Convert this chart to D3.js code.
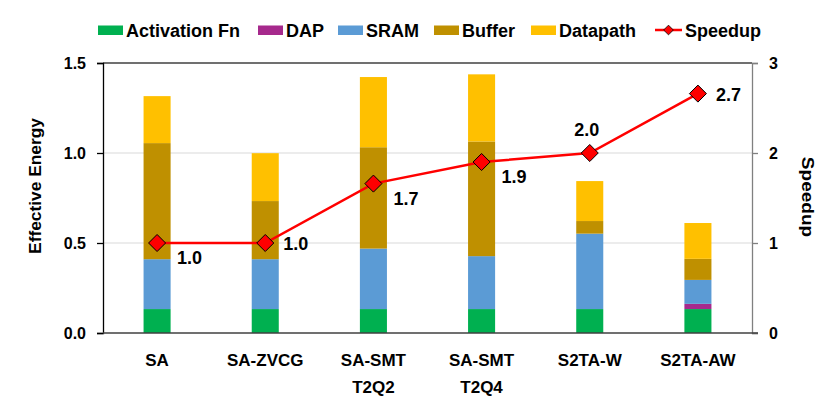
<!DOCTYPE html>
<html>
<head>
<meta charset="utf-8">
<script src="https://cdn.jsdelivr.net/npm/d3@7"></script>
<style>
  body { margin: 0; background: #fff; }
  text { font-family: "Liberation Sans", Arial, sans-serif; font-weight: bold; fill: #000; }
</style>
</head>
<body>
<div id="chart"></div>
<script>
// chart values
var categories = ["SA", "SA-ZVCG", "SA-SMT\nT2Q2", "SA-SMT\nT2Q4", "S2TA-W", "S2TA-AW"];
var seriesNames = ["Activation Fn", "DAP", "SRAM", "Buffer", "Datapath"];
var activationFn = [0.133, 0.133, 0.133, 0.133, 0.133, 0.133];
var dap          = [0, 0, 0, 0, 0, 0.029];
var sram         = [0.277, 0.277, 0.336, 0.294, 0.419, 0.133];
var buffer       = [0.645, 0.323, 0.563, 0.637, 0.070, 0.117];
var datapath     = [0.261, 0.266, 0.390, 0.373, 0.222, 0.199];
var speedup      = [1.0, 1.0, 1.66, 1.9, 2.0, 2.66];
var energyTicks  = [0, 0.5, 1.0, 1.5];
var speedupTicks = [0, 1, 2, 3];

var colors = ["#00B050", "#A6298C", "#5B9BD5", "#BF9000", "#FFC000"];
// where each speedup label sits relative to its marker
var labelPlace = ["br", "r", "br", "br", "t", "r"];

var W = 830, H = 411;
var m = { l: 103, r: 78, t: 63, b: 78 };

// stretch/squeeze a text to a width factor
function condense(sel, k) {
    sel.each(function() {
        var w = this.getComputedTextLength();
        d3.select(this)
            .attr("textLength", w * k)
            .attr("lengthAdjust", "spacingAndGlyphs");
    });
}

var svg = d3.select("#chart").append("svg")
    .attr("width", W)
    .attr("height", H);

var x = d3.scaleBand()
    .domain(categories)
    .range([m.l, W - m.r])
    .paddingInner(0.75)
    .paddingOuter(0.375);

var y = d3.scaleLinear().domain([0, 1.5]).range([H - m.b, m.t]);
var y2 = d3.scaleLinear().domain([0, 3]).range([H - m.b, m.t]);

// gridlines
svg.append("g")
    .selectAll("line")
    .data(energyTicks.slice(1, 3))
    .enter().append("line")
    .attr("x1", m.l).attr("x2", W - m.r)
    .attr("y1", d => y(d)).attr("y2", d => y(d))
    .attr("stroke", "#d9d9d9")
    .attr("stroke-width", 1);

// stacked bars
var rows = categories.map(function(c, i) {
    return {
        cat: c,
        "Activation Fn": activationFn[i],
        "DAP": dap[i],
        "SRAM": sram[i],
        "Buffer": buffer[i],
        "Datapath": datapath[i]
    };
});
var stack = d3.stack().keys(seriesNames)(rows);

svg.append("g")
    .selectAll("g")
    .data(stack)
    .enter().append("g")
    .attr("fill", (d, i) => colors[i])
    .selectAll("rect")
    .data(d => d)
    .enter().append("rect")
    .attr("x", d => x(d.data.cat))
    .attr("width", x.bandwidth())
    .attr("y", d => y(d[1]))
    .attr("height", d => y(d[0]) - y(d[1]));

// top border
svg.append("line")
    .attr("x1", m.l).attr("x2", W - m.r)
    .attr("y1", m.t).attr("y2", m.t)
    .attr("stroke", "#404040").attr("stroke-width", 1.3);

// left axis
var yAxis = svg.append("g")
    .attr("transform", "translate(" + m.l + ",0)")
    .call(d3.axisLeft(y).tickValues(energyTicks).tickFormat(d3.format(".1f")).tickSize(6).tickPadding(11));
yAxis.select(".domain").attr("stroke", "#000").attr("stroke-width", 1.3);
yAxis.selectAll(".tick line").attr("stroke", "#000").attr("stroke-width", 1.3);
yAxis.selectAll("text").style("font-size", "16px").attr("font-family", null);

// right axis
var y2Axis = svg.append("g")
    .attr("transform", "translate(" + (W - m.r) + ",0)")
    .call(d3.axisRight(y2).tickValues(speedupTicks).tickFormat(d3.format("d")).tickSize(6).tickPadding(11));
y2Axis.select(".domain").attr("stroke", "#808080").attr("stroke-width", 1.3);
y2Axis.selectAll(".tick line").attr("stroke", "#808080").attr("stroke-width", 1.3);
y2Axis.selectAll("text").style("font-size", "16px").attr("font-family", null);

// bottom axis line
svg.append("line")
    .attr("x1", m.l).attr("x2", W - m.r + 6)
    .attr("y1", y(0)).attr("y2", y(0))
    .attr("stroke", "#404040").attr("stroke-width", 1.3);

// category labels, one text per line
var catLines = [];
categories.forEach(function(c) {
    c.split("\n").forEach(function(s, j) {
        catLines.push({ cat: c, text: s, line: j });
    });
});
svg.append("g")
    .selectAll("text")
    .data(catLines)
    .enter().append("text")
    .attr("text-anchor", "middle")
    .attr("x", d => x(d.cat) + x.bandwidth() / 2)
    .attr("y", d => 366 + d.line * 27)
    .style("font-size", "17px")
    .text(d => d.text);

// axis titles
svg.append("text")
    .attr("transform", "translate(41,186) rotate(-90)")
    .attr("text-anchor", "middle")
    .style("font-size", "17px")
    .text("Effective Energy")
    .call(condense, 1.02);
svg.append("text")
    .attr("transform", "translate(802,197) rotate(90)")
    .attr("text-anchor", "middle")
    .style("font-size", "17px")
    .text("Speedup")
    .call(condense, 1.12);

// speedup line
var cx = function(i) { return x(categories[i]) + x.bandwidth() / 2; };
var line = d3.line()
    .x((d, i) => cx(i))
    .y(d => y2(d));
svg.append("path")
    .datum(speedup)
    .attr("d", line)
    .attr("fill", "none")
    .attr("stroke", "#FF0000")
    .attr("stroke-width", 2.5);

var diamond = d3.symbol().type(d3.symbolDiamond2).size(185);
svg.append("g")
    .selectAll("path")
    .data(speedup)
    .enter().append("path")
    .attr("d", diamond)
    .attr("transform", (d, i) => "translate(" + cx(i) + "," + y2(d) + ")")
    .attr("fill", "#FF0000")
    .attr("stroke", "#000")
    .attr("stroke-width", 1);

svg.append("g")
    .selectAll("text")
    .data(speedup)
    .enter().append("text")
    .attr("x", function(d, i) {
        var p = labelPlace[i];
        if (p === "t") return cx(i) - 3;
        return p === "br" ? cx(i) + 20 : cx(i) + 18;
    })
    .attr("y", function(d, i) {
        var p = labelPlace[i];
        if (p === "t") return y2(d) - 17;
        if (p === "br") return y2(d) + 21;
        return y2(d) + 7;
    })
    .attr("text-anchor", (d, i) => labelPlace[i] === "t" ? "middle" : "start")
    .style("font-size", "18px")
    .text(d => d.toFixed(1));

// legend
var legendItems = seriesNames.concat(["Speedup"]);
var legendX = [98, 258, 338, 434, 531, 655];
var lg = svg.append("g")
    .selectAll("g")
    .data(legendItems)
    .enter().append("g")
    .attr("transform", (d, i) => "translate(" + legendX[i] + ",30)");
lg.each(function(d, i) {
    var g = d3.select(this);
    if (i < seriesNames.length) {
        g.append("rect")
            .attr("x", 0).attr("y", -4.5)
            .attr("width", 25).attr("height", 9.5)
            .attr("fill", colors[i]);
    } else {
        g.append("line")
            .attr("x1", 0).attr("x2", 27)
            .attr("y1", 0).attr("y2", 0)
            .attr("stroke", "#FF0000").attr("stroke-width", 2.5);
        g.append("path")
            .attr("d", d3.symbol().type(d3.symbolDiamond2).size(60))
            .attr("transform", "translate(13.5,0)")
            .attr("fill", "#FF0000")
            .attr("stroke", "#000")
            .attr("stroke-width", 0.8);
    }
    g.append("text")
        .attr("x", i < seriesNames.length ? 28 : 30)
        .attr("y", 6.5)
        .style("font-size", "18px")
        .text(d);
});
</script>
</body>
</html>
